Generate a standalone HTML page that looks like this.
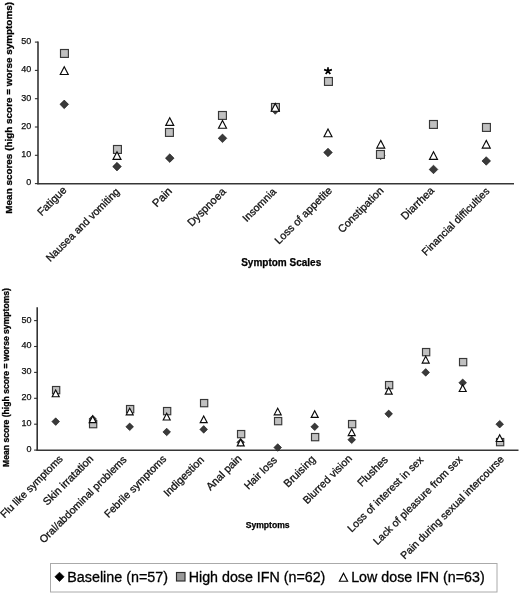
<!DOCTYPE html>
<html><head><meta charset="utf-8"><title>Symptom scores</title>
<style>html,body{margin:0;padding:0;background:#fff}body{width:520px;height:594px;overflow:hidden}</style></head>
<body>
<svg width="520" height="594" viewBox="0 0 520 594" style="display:block;font-family:'Liberation Sans',sans-serif;filter:grayscale(1)">
<rect width="520" height="594" fill="#fff"/>
<g stroke="#2e2e2e" stroke-width="1.55" fill="none">
<path d="M38.0 41.6V184.35"/>
<path stroke-width="1.35" stroke="#363636" d="M37.30 183.75H514"/>
<path stroke-width="1.1" d="M34.90 183.60H38.0"/>
<path stroke-width="1.1" d="M34.90 155.30H38.0"/>
<path stroke-width="1.1" d="M34.90 127.00H38.0"/>
<path stroke-width="1.1" d="M34.90 98.70H38.0"/>
<path stroke-width="1.1" d="M34.90 70.40H38.0"/>
<path stroke-width="1.1" d="M34.90 42.10H38.0"/>
</g>
<g font-size="9.0" fill="#111" stroke="#111" stroke-width="0.25" text-anchor="end">
<text x="31.3" y="185.44">0</text>
<text x="31.3" y="157.14">10</text>
<text x="31.3" y="128.84">20</text>
<text x="31.3" y="100.54">30</text>
<text x="31.3" y="72.24">40</text>
<text x="31.3" y="43.94">50</text>
</g>
<text font-size="10.894" fill="#111" stroke="#111" stroke-width="0.3" text-anchor="end" transform="translate(67.30 190.75) rotate(-45)">Fatigue</text>
<text font-size="10.563" fill="#111" stroke="#111" stroke-width="0.3" text-anchor="end" transform="translate(120.20 192.30) rotate(-45)">Nausea and vomiting</text>
<text font-size="11.205" fill="#111" stroke="#111" stroke-width="0.3" text-anchor="end" transform="translate(172.70 191.90) rotate(-45)">Pain</text>
<text font-size="10.914" fill="#111" stroke="#111" stroke-width="0.3" text-anchor="end" transform="translate(226.50 192.30) rotate(-45)">Dyspnoea</text>
<text font-size="10.513" fill="#111" stroke="#111" stroke-width="0.3" text-anchor="end" transform="translate(276.85 192.30) rotate(-45)">Insomnia</text>
<text font-size="10.755" fill="#111" stroke="#111" stroke-width="0.3" text-anchor="end" transform="translate(332.65 191.15) rotate(-45)">Loss of appetite</text>
<text font-size="10.729" fill="#111" stroke="#111" stroke-width="0.3" text-anchor="end" transform="translate(384.30 191.25) rotate(-45)">Constipation</text>
<text font-size="10.838" fill="#111" stroke="#111" stroke-width="0.3" text-anchor="end" transform="translate(434.70 191.15) rotate(-45)">Diarrhea</text>
<text font-size="10.502" fill="#111" stroke="#111" stroke-width="0.3" text-anchor="end" transform="translate(490.20 191.90) rotate(-45)">Financial difficulties</text>
<path d="M64.25 100.06L68.55 104.36L64.25 108.66L59.95 104.36Z" fill="#3a3a3a" stroke="#111" stroke-width="0.6"/>
<rect x="60.50" y="49.50" width="7.90" height="7.90" fill="#c0c0c0" stroke="#383838" stroke-width="1.15"/>
<path d="M64.25 66.80L68.25 74.50L60.25 74.50Z" fill="#fff" stroke="#0a0a0a" stroke-width="1.15"/>
<path d="M117.00 162.32L121.30 166.62L117.00 170.92L112.70 166.62Z" fill="#3a3a3a" stroke="#111" stroke-width="0.6"/>
<rect x="113.50" y="145.50" width="7.90" height="7.90" fill="#c0c0c0" stroke="#383838" stroke-width="1.15"/>
<path d="M117.00 151.70L121.00 159.40L113.00 159.40Z" fill="#fff" stroke="#0a0a0a" stroke-width="1.15"/>
<path d="M169.75 153.83L174.05 158.13L169.75 162.43L165.45 158.13Z" fill="#3a3a3a" stroke="#111" stroke-width="0.6"/>
<rect x="165.50" y="128.50" width="7.90" height="7.90" fill="#c0c0c0" stroke="#383838" stroke-width="1.15"/>
<path d="M169.75 117.74L173.75 125.44L165.75 125.44Z" fill="#fff" stroke="#0a0a0a" stroke-width="1.15"/>
<path d="M222.50 134.02L226.80 138.32L222.50 142.62L218.20 138.32Z" fill="#3a3a3a" stroke="#111" stroke-width="0.6"/>
<rect x="218.50" y="111.50" width="7.90" height="7.90" fill="#c0c0c0" stroke="#383838" stroke-width="1.15"/>
<path d="M222.50 120.57L226.50 128.27L218.50 128.27Z" fill="#fff" stroke="#0a0a0a" stroke-width="1.15"/>
<path d="M275.25 105.72L279.55 110.02L275.25 114.32L270.95 110.02Z" fill="#3a3a3a" stroke="#111" stroke-width="0.6"/>
<rect x="271.50" y="103.50" width="7.90" height="7.90" fill="#c0c0c0" stroke="#383838" stroke-width="1.15"/>
<path d="M275.25 103.59L279.25 111.29L271.25 111.29Z" fill="#fff" stroke="#0a0a0a" stroke-width="1.15"/>
<path d="M328.00 148.17L332.30 152.47L328.00 156.77L323.70 152.47Z" fill="#3a3a3a" stroke="#111" stroke-width="0.6"/>
<rect x="324.50" y="77.50" width="7.90" height="7.90" fill="#c0c0c0" stroke="#383838" stroke-width="1.15"/>
<path d="M328.00 129.06L332.00 136.76L324.00 136.76Z" fill="#fff" stroke="#0a0a0a" stroke-width="1.15"/>
<path d="M380.75 151.00L385.05 155.30L380.75 159.60L376.45 155.30Z" fill="#3a3a3a" stroke="#111" stroke-width="0.6"/>
<rect x="376.50" y="150.50" width="7.90" height="7.90" fill="#c0c0c0" stroke="#383838" stroke-width="1.15"/>
<path d="M380.75 140.38L384.75 148.08L376.75 148.08Z" fill="#fff" stroke="#0a0a0a" stroke-width="1.15"/>
<path d="M433.50 165.15L437.80 169.45L433.50 173.75L429.20 169.45Z" fill="#3a3a3a" stroke="#111" stroke-width="0.6"/>
<rect x="429.50" y="120.50" width="7.90" height="7.90" fill="#c0c0c0" stroke="#383838" stroke-width="1.15"/>
<path d="M433.50 151.70L437.50 159.40L429.50 159.40Z" fill="#fff" stroke="#0a0a0a" stroke-width="1.15"/>
<path d="M486.25 156.66L490.55 160.96L486.25 165.26L481.95 160.96Z" fill="#3a3a3a" stroke="#111" stroke-width="0.6"/>
<rect x="482.50" y="123.50" width="7.90" height="7.90" fill="#c0c0c0" stroke="#383838" stroke-width="1.15"/>
<path d="M486.25 140.38L490.25 148.08L482.25 148.08Z" fill="#fff" stroke="#0a0a0a" stroke-width="1.15"/>
<text font-size="9.92" font-weight="bold" fill="#000" stroke="#000" stroke-width="0.3" text-anchor="middle" transform="translate(11.5 107.8) rotate(-90)">Mean scores (high score = worse symptoms)</text>
<text font-size="10" font-weight="bold" fill="#000" stroke="#000" stroke-width="0.25" text-anchor="middle" x="281.2" y="265.5">Symptom Scales</text>
<g stroke="#2e2e2e" stroke-width="1.55" fill="none">
<path d="M37.2 307.3V450.85"/>
<path stroke-width="1.35" stroke="#363636" d="M36.50 450.25H518.5"/>
<path stroke-width="1.1" d="M34.10 450.10H37.2"/>
<path stroke-width="1.1" d="M34.10 424.20H37.2"/>
<path stroke-width="1.1" d="M34.10 398.30H37.2"/>
<path stroke-width="1.1" d="M34.10 372.40H37.2"/>
<path stroke-width="1.1" d="M34.10 346.50H37.2"/>
<path stroke-width="1.1" d="M34.10 320.60H37.2"/>
</g>
<g font-size="9.0" fill="#111" stroke="#111" stroke-width="0.25" text-anchor="end">
<text x="31.4" y="452.04">0</text>
<text x="31.4" y="426.14">10</text>
<text x="31.4" y="400.24">20</text>
<text x="31.4" y="374.34">30</text>
<text x="31.4" y="348.44">40</text>
<text x="31.4" y="322.54">50</text>
</g>
<text font-size="10.428" fill="#111" stroke="#111" stroke-width="0.3" text-anchor="end" transform="translate(63.50 459.55) rotate(-45)">Flu like symptoms</text>
<text font-size="10.799" fill="#111" stroke="#111" stroke-width="0.3" text-anchor="end" transform="translate(93.95 459.50) rotate(-45)">Skin irratation</text>
<text font-size="10.587" fill="#111" stroke="#111" stroke-width="0.3" text-anchor="end" transform="translate(127.32 460.18) rotate(-45)">Oral/abdominal problems</text>
<text font-size="10.517" fill="#111" stroke="#111" stroke-width="0.3" text-anchor="end" transform="translate(167.02 459.55) rotate(-45)">Febrile symptoms</text>
<text font-size="10.764" fill="#111" stroke="#111" stroke-width="0.3" text-anchor="end" transform="translate(204.75 460.45) rotate(-45)">Indigestion</text>
<text font-size="10.817" fill="#111" stroke="#111" stroke-width="0.3" text-anchor="end" transform="translate(242.25 459.15) rotate(-45)">Anal pain</text>
<text font-size="10.673" fill="#111" stroke="#111" stroke-width="0.3" text-anchor="end" transform="translate(277.70 460.80) rotate(-45)">Hair loss</text>
<text font-size="11.019" fill="#111" stroke="#111" stroke-width="0.3" text-anchor="end" transform="translate(316.05 459.95) rotate(-45)">Bruising</text>
<text font-size="10.600" fill="#111" stroke="#111" stroke-width="0.3" text-anchor="end" transform="translate(352.60 459.15) rotate(-45)">Blurred vision</text>
<text font-size="10.889" fill="#111" stroke="#111" stroke-width="0.3" text-anchor="end" transform="translate(388.60 460.30) rotate(-45)">Flushes</text>
<text font-size="10.550" fill="#111" stroke="#111" stroke-width="0.3" text-anchor="end" transform="translate(423.98 460.50) rotate(-45)">Loss of interest in sex</text>
<text font-size="10.551" fill="#111" stroke="#111" stroke-width="0.3" text-anchor="end" transform="translate(462.98 460.14) rotate(-45)">Lack of pleasure from sex</text>
<text font-size="10.500" fill="#111" stroke="#111" stroke-width="0.3" text-anchor="end" transform="translate(504.70 459.90) rotate(-45)">Pain during sexual intercourse</text>
<path d="M55.70 417.81L59.50 421.61L55.70 425.41L51.90 421.61Z" fill="#3a3a3a" stroke="#111" stroke-width="0.6"/>
<rect x="52.50" y="386.50" width="7.25" height="7.25" fill="#c0c0c0" stroke="#383838" stroke-width="1.15"/>
<path d="M55.70 390.02L59.20 396.72L52.20 396.72Z" fill="#fff" stroke="#0a0a0a" stroke-width="1.15"/>
<path d="M92.70 415.22L96.50 419.02L92.70 422.82L88.90 419.02Z" fill="#3a3a3a" stroke="#111" stroke-width="0.6"/>
<rect x="89.50" y="420.50" width="7.25" height="7.25" fill="#c0c0c0" stroke="#383838" stroke-width="1.15"/>
<path d="M92.70 415.92L96.20 422.62L89.20 422.62Z" fill="#fff" stroke="#0a0a0a" stroke-width="1.15"/>
<path d="M129.70 422.99L133.50 426.79L129.70 430.59L125.90 426.79Z" fill="#3a3a3a" stroke="#111" stroke-width="0.6"/>
<rect x="126.50" y="405.50" width="7.25" height="7.25" fill="#c0c0c0" stroke="#383838" stroke-width="1.15"/>
<path d="M129.70 408.15L133.20 414.85L126.20 414.85Z" fill="#fff" stroke="#0a0a0a" stroke-width="1.15"/>
<path d="M166.70 428.17L170.50 431.97L166.70 435.77L162.90 431.97Z" fill="#3a3a3a" stroke="#111" stroke-width="0.6"/>
<rect x="163.50" y="407.50" width="7.25" height="7.25" fill="#c0c0c0" stroke="#383838" stroke-width="1.15"/>
<path d="M166.70 413.33L170.20 420.03L163.20 420.03Z" fill="#fff" stroke="#0a0a0a" stroke-width="1.15"/>
<path d="M203.70 425.58L207.50 429.38L203.70 433.18L199.90 429.38Z" fill="#3a3a3a" stroke="#111" stroke-width="0.6"/>
<rect x="200.50" y="399.50" width="7.25" height="7.25" fill="#c0c0c0" stroke="#383838" stroke-width="1.15"/>
<path d="M203.70 415.92L207.20 422.62L200.20 422.62Z" fill="#fff" stroke="#0a0a0a" stroke-width="1.15"/>
<path d="M240.70 438.53L244.50 442.33L240.70 446.13L236.90 442.33Z" fill="#3a3a3a" stroke="#111" stroke-width="0.6"/>
<rect x="237.50" y="430.50" width="7.25" height="7.25" fill="#c0c0c0" stroke="#383838" stroke-width="1.15"/>
<path d="M240.70 439.23L244.20 445.93L237.20 445.93Z" fill="#fff" stroke="#0a0a0a" stroke-width="1.15"/>
<path d="M277.70 443.71L281.50 447.51L277.70 451.31L273.90 447.51Z" fill="#3a3a3a" stroke="#111" stroke-width="0.6"/>
<rect x="274.50" y="417.50" width="7.25" height="7.25" fill="#c0c0c0" stroke="#383838" stroke-width="1.15"/>
<path d="M277.70 408.15L281.20 414.85L274.20 414.85Z" fill="#fff" stroke="#0a0a0a" stroke-width="1.15"/>
<path d="M314.70 422.99L318.50 426.79L314.70 430.59L310.90 426.79Z" fill="#3a3a3a" stroke="#111" stroke-width="0.6"/>
<rect x="311.50" y="433.50" width="7.25" height="7.25" fill="#c0c0c0" stroke="#383838" stroke-width="1.15"/>
<path d="M314.70 410.74L318.20 417.44L311.20 417.44Z" fill="#fff" stroke="#0a0a0a" stroke-width="1.15"/>
<path d="M351.70 435.94L355.50 439.74L351.70 443.54L347.90 439.74Z" fill="#3a3a3a" stroke="#111" stroke-width="0.6"/>
<rect x="348.50" y="420.50" width="7.25" height="7.25" fill="#c0c0c0" stroke="#383838" stroke-width="1.15"/>
<path d="M351.70 428.87L355.20 435.57L348.20 435.57Z" fill="#fff" stroke="#0a0a0a" stroke-width="1.15"/>
<path d="M388.70 410.04L392.50 413.84L388.70 417.64L384.90 413.84Z" fill="#3a3a3a" stroke="#111" stroke-width="0.6"/>
<rect x="385.50" y="381.50" width="7.25" height="7.25" fill="#c0c0c0" stroke="#383838" stroke-width="1.15"/>
<path d="M388.70 387.43L392.20 394.13L385.20 394.13Z" fill="#fff" stroke="#0a0a0a" stroke-width="1.15"/>
<path d="M425.70 368.60L429.50 372.40L425.70 376.20L421.90 372.40Z" fill="#3a3a3a" stroke="#111" stroke-width="0.6"/>
<rect x="422.50" y="348.50" width="7.25" height="7.25" fill="#c0c0c0" stroke="#383838" stroke-width="1.15"/>
<path d="M425.70 356.35L429.20 363.05L422.20 363.05Z" fill="#fff" stroke="#0a0a0a" stroke-width="1.15"/>
<path d="M462.70 378.96L466.50 382.76L462.70 386.56L458.90 382.76Z" fill="#3a3a3a" stroke="#111" stroke-width="0.6"/>
<rect x="459.50" y="358.50" width="7.25" height="7.25" fill="#c0c0c0" stroke="#383838" stroke-width="1.15"/>
<path d="M462.70 384.84L466.20 391.54L459.20 391.54Z" fill="#fff" stroke="#0a0a0a" stroke-width="1.15"/>
<path d="M499.70 420.40L503.50 424.20L499.70 428.00L495.90 424.20Z" fill="#3a3a3a" stroke="#111" stroke-width="0.6"/>
<rect x="496.50" y="438.50" width="7.25" height="7.25" fill="#c0c0c0" stroke="#383838" stroke-width="1.15"/>
<path d="M499.70 434.83L503.20 441.53L496.20 441.53Z" fill="#fff" stroke="#0a0a0a" stroke-width="1.15"/>
<text font-size="8.6" font-weight="bold" fill="#000" stroke="#000" stroke-width="0.3" text-anchor="middle" transform="translate(9.3 377.5) rotate(-90)">Mean score (high score = worse symptoms)</text>
<text font-size="8.6" font-weight="bold" fill="#000" stroke="#000" stroke-width="0.25" text-anchor="middle" x="267.7" y="527.6">Symptoms</text>
<path d="M328 70.9V67.2M328 70.9L324.1 69.6M328 70.9L331.9 69.6M328 70.9L325.7 74.1M328 70.9L330.3 74.1" stroke="#000" stroke-width="1.7" fill="none"/>
<rect x="50.5" y="563.5" width="446.5" height="28.5" fill="#fff" stroke="#aaa" stroke-width="1"/>
<path d="M59.50 572.15L64.15 576.80L59.50 581.45L54.85 576.80Z" fill="#000" stroke="#000" stroke-width="0.6"/>
<rect x="176.50" y="572.50" width="8.50" height="8.50" fill="#999" stroke="#2a2a2a" stroke-width="1.15"/>
<path d="M343.50 573.30L347.60 581.20L339.40 581.20Z" fill="#fff" stroke="#000" stroke-width="1.15"/>
<g font-size="14.25" fill="#000" stroke="#000" stroke-width="0.3">
<text x="67.3" y="582.3" font-size="14.32">Baseline (n=57)</text>
<text x="188.7" y="582.3">High dose IFN (n=62)</text>
<text x="351.2" y="582.3">Low dose IFN (n=63)</text>
</g>
</svg>
</body></html>
